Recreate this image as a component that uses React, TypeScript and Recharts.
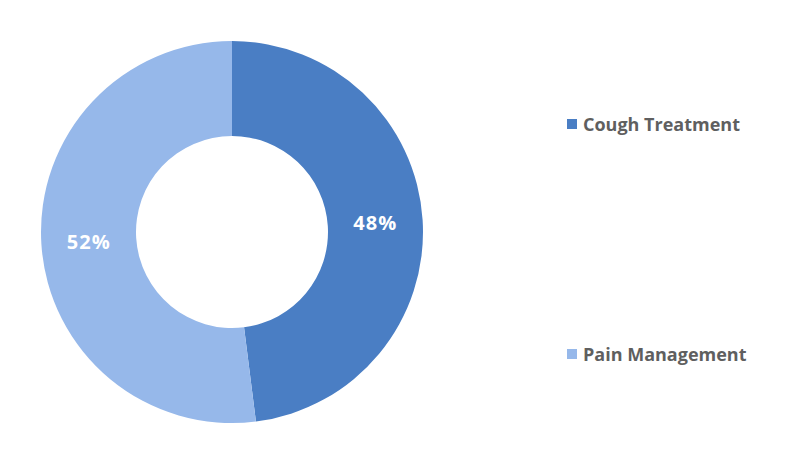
import React from "react";
import { PieChart, Pie, Cell } from "recharts";

const categories = ["Cough Treatment", "Pain Management"];
const shares = [48, 52];
const colors = ["#4a7ec4", "#96b8ea"];

const data = categories.map((name, i) => ({ name, value: shares[i] }));

const RADIAN = Math.PI / 180;
const FONT = "'Open Sans', 'Liberation Sans', sans-serif";

const renderLabel = (props: any) => {
  const { cx, cy, midAngle, innerRadius, outerRadius, value } = props;
  const r = (innerRadius + outerRadius) / 2;
  const x = cx + r * Math.cos(-midAngle * RADIAN);
  const y = cy + r * Math.sin(-midAngle * RADIAN);
  return (
    <text
      x={x}
      y={y}
      fill="#ffffff"
      textAnchor="middle"
      dominantBaseline="central"
      style={{ fontFamily: FONT, fontWeight: 700, fontSize: 20, letterSpacing: 1 }}
    >
      {`${value}%`}
    </text>
  );
};

export default function App() {
  return (
    <div style={{ position: "fixed", left: 0, top: 0, width: 800, height: 465, background: "#fff" }}>
      <PieChart width={800} height={465} margin={{ top: 0, right: 0, bottom: 0, left: 0 }}>
        <Pie
          data={data}
          dataKey="value"
          nameKey="name"
          cx={232}
          cy={232}
          innerRadius={96}
          outerRadius={191}
          startAngle={90}
          endAngle={-270}
          stroke="none"
          label={renderLabel}
          labelLine={false}
          isAnimationActive={false}
        >
          {data.map((d, i) => (
            <Cell key={d.name} fill={colors[i]} />
          ))}
        </Pie>
      </PieChart>
      {data.map((d, i) => (
        <div
          key={d.name}
          style={{
            position: "absolute",
            left: 567,
            top: 124 + i * 230 - 14,
            height: 28,
            display: "flex",
            alignItems: "center",
            fontFamily: FONT,
            fontWeight: 700,
            fontSize: 18,
            color: "#5f5f5f",
            whiteSpace: "nowrap",
          }}
        >
          <span
            style={{
              display: "inline-block",
              width: 10,
              height: 10,
              background: colors[i],
              marginRight: 6,
            }}
          />
          {d.name}
        </div>
      ))}
    </div>
  );
}
